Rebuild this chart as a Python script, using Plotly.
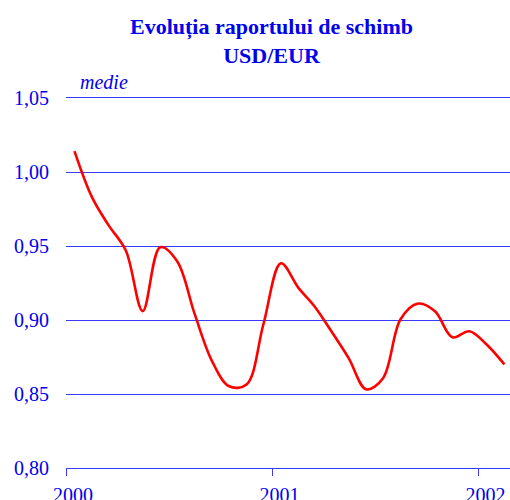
import plotly.graph_objects as go

# Curs mediu lunar USD/EUR, ian. 2000 - feb. 2002
luni = [
    "2000-01", "2000-02", "2000-03", "2000-04", "2000-05", "2000-06",
    "2000-07", "2000-08", "2000-09", "2000-10", "2000-11", "2000-12",
    "2001-01", "2001-02", "2001-03", "2001-04", "2001-05", "2001-06",
    "2001-07", "2001-08", "2001-09", "2001-10", "2001-11", "2001-12",
    "2002-01", "2002-02",
]
curs = [
    1.0141, 0.9830, 0.9643, 0.9470, 0.9060, 0.9492,
    0.9397, 0.9041, 0.8721, 0.8552, 0.8564, 0.8973,
    0.9383, 0.9217, 0.9095, 0.8920, 0.8742, 0.8532,
    0.8607, 0.9005, 0.9111, 0.9059, 0.8883, 0.8924,
    0.8833, 0.8700,
]
ani = ["2000", "2001", "2002"]
y_ticks = [0.80, 0.85, 0.90, 0.95, 1.00, 1.05]

albastru = "#0000ee"
grila = "#3a3aff"
serif = "Liberation Serif, Times New Roman, serif"

# punctele sunt plasate la mijlocul lunii
x_date = [f"{l}-16" for l in luni]

fig = go.Figure()
fig.add_trace(go.Scatter(
    x=x_date, y=curs,
    mode="lines",
    line=dict(color="#ff0000", width=2.6, shape="spline", smoothing=1.0),
    showlegend=False,
))

fig.update_layout(
    width=510, height=500,
    margin=dict(l=66, r=0, t=98, b=32),
    plot_bgcolor="white", paper_bgcolor="white",
    font=dict(family=serif, size=20, color=albastru),
)

fig.update_xaxes(
    range=["2000-01-01", "2002-02-26"],
    tickvals=[f"{a}-01-01" for a in ani],
    ticktext=ani,
    showgrid=False, automargin=False,
    showline=True, mirror=True, linecolor=grila, linewidth=1,
    ticks="outside", ticklen=7, tickcolor=grila, tickwidth=1,
    ticklabelshift=7, ticklabelstandoff=2,
    tickfont=dict(family=serif, size=20, color=albastru),
)
fig.update_yaxes(
    range=[0.80, 1.05],
    tickvals=y_ticks,
    ticktext=[f"{v:.2f}".replace(".", ",") for v in y_ticks],
    showgrid=True, gridcolor=grila, gridwidth=1,
    zeroline=False, showline=False, automargin=False,
    ticks="", ticklabelstandoff=16,
    tickfont=dict(family=serif, size=20, color=albastru),
)

fig.add_annotation(
    text="<b>Evoluția raportului de schimb<br>USD/EUR</b>",
    xref="paper", yref="paper", x=0.462, y=1.0, yshift=86,
    xanchor="center", yanchor="top", showarrow=False,
    font=dict(family=serif, size=22, color=albastru),
)
fig.add_annotation(
    text="<i>medie</i>",
    xref="paper", yref="paper", x=0.027, y=1.0, yshift=3,
    xanchor="left", yanchor="bottom", showarrow=False,
    font=dict(family=serif, size=20, color=albastru),
)

# fara marginea implicita a paginii, figura ocupa exact fereastra
fig.write_html(
    "out.html",
    config={"displayModeBar": False},
    post_script="document.body.style.margin='0';document.body.style.overflow='hidden';",
)
